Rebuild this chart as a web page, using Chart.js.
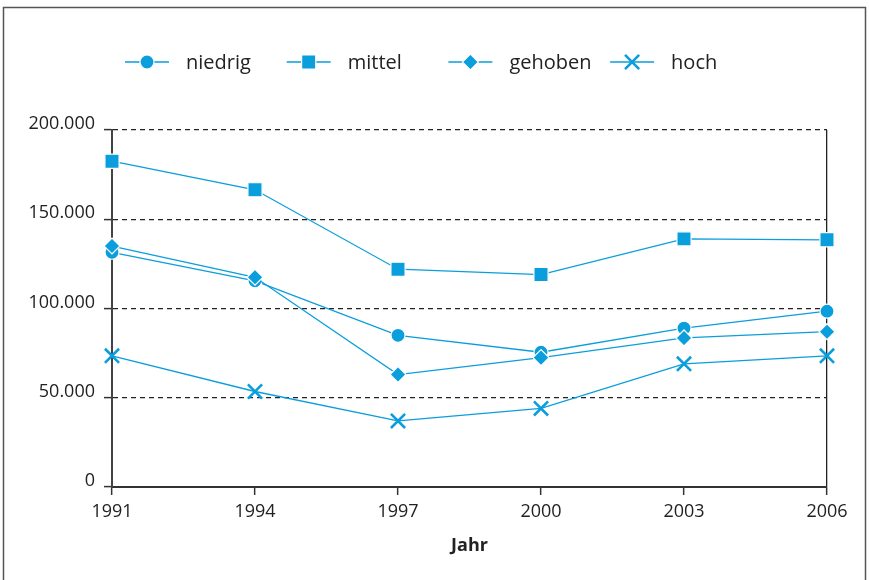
<!DOCTYPE html>
<html>
<head>
<meta charset="utf-8">
<script src="https://cdn.jsdelivr.net/npm/chart.js@4.4.1/dist/chart.umd.min.js"></script>
<style>
  body { margin: 0; background: #fff; }
  #wrap { width: 869px; height: 580px; position: relative; }
</style>
</head>
<body>
<div id="wrap"><canvas id="myChart" width="869" height="580"></canvas></div>
<script>
var years = ["1991", "1994", "1997", "2000", "2003", "2006"];
var niedrig = [131500, 115500, 85000, 75500, 89000, 98500];
var mittel  = [182500, 166500, 122000, 119000, 139000, 138500];
var gehoben = [135000, 117500, 63000, 72500, 83500, 87000];
var hoch    = [73500, 53500, 37000, 44000, 69000, 73500];
var yTicks  = [0, 50000, 100000, 150000, 200000];

var blue = "#0a9edc";
var font = "'Open Sans', 'Noto Sans', sans-serif";

function fmt(v) {
  return String(v).replace(/\B(?=(\d{3})+(?!\d))/g, ".");
}

function series(label, data, style, radius, order) {
  return {
    label: label,
    data: data,
    borderColor: blue,
    borderWidth: 1.3,
    backgroundColor: blue,
    pointStyle: style,
    pointRadius: radius,
    pointHoverRadius: radius,
    pointBackgroundColor: blue,
    pointBorderColor: style === "crossRot" ? blue : "#fff",
    pointBorderWidth: style === "crossRot" ? 2.6 : 1.2,
    order: order,
    tension: 0
  };
}

// legend with a short line through the marker, and the outer frame
var extras = {
  id: "extras",
  afterDraw(chart) {
    var ctx = chart.ctx;
    ctx.save();
    ctx.strokeStyle = "#555";
    ctx.lineWidth = 1.5;
    ctx.beginPath();
    ctx.moveTo(3.5, 580);
    ctx.lineTo(3.5, 7.5);
    ctx.lineTo(865.5, 7.5);
    ctx.lineTo(865.5, 580);
    ctx.stroke();

    var y = 62;
    chart.data.datasets.forEach(function (ds, i) {
      var x0 = 125 + i * 161.7;
      ctx.strokeStyle = blue;
      ctx.lineWidth = 1.3;
      ctx.beginPath();
      ctx.moveTo(x0, y);
      ctx.lineTo(x0 + 44, y);
      ctx.stroke();
      ctx.fillStyle = blue;
      ctx.strokeStyle = ds.pointBorderColor;
      ctx.lineWidth = ds.pointBorderWidth;
      Chart.helpers.drawPoint(ctx, {
        pointStyle: ds.pointStyle,
        radius: ds.pointRadius,
        borderWidth: ds.pointBorderWidth
      }, x0 + 22, y);
      ctx.fillStyle = "#222";
      ctx.font = "20px " + font;
      ctx.textBaseline = "middle";
      ctx.fillText(ds.label, x0 + 61, y + 1);
    });
    ctx.restore();
  }
};

new Chart("myChart", {
  type: "line",
  data: {
    labels: years,
    datasets: [
      series("niedrig", niedrig, "circle", 7, 2),
      series("mittel", mittel, "rect", 10, 1),
      series("gehoben", gehoben, "rectRot", 8, 0),
      series("hoch", hoch, "crossRot", 10, 1)
    ]
  },
  options: {
    responsive: false,
    animation: false,
    layout: { padding: { top: 130, right: 42, left: 0, bottom: 0 } },
    plugins: { legend: { display: false }, tooltip: { enabled: false } },
    scales: {
      x: {
        offset: false,
        afterFit(scale) { scale.height = 93; },
        border: { color: "#333", width: 2 },
        grid: {
          color: function (c) { return c.index === years.length - 1 ? "#222" : "rgba(0,0,0,0)"; },
          lineWidth: 1.3,
          tickLength: 8,
          tickColor: "#333",
          tickWidth: 1.5
        },
        ticks: { color: "#222", font: { family: font, size: 18 }, padding: 6, maxRotation: 0 },
        title: {
          display: true,
          text: "Jahr",
          color: "#222",
          font: { family: font, size: 18, weight: "bold" },
          padding: { top: 4, bottom: 23 }
        }
      },
      y: {
        min: 0,
        max: 200000,
        afterFit(scale) { scale.width = 112; },
        afterBuildTicks(scale) { scale.ticks = yTicks.map(function (v) { return { value: v }; }); },
        border: { color: "#444", width: 2, dash: [5, 4] },
        grid: {
          color: function (c) { return c.tick && c.tick.value === 0 ? "rgba(0,0,0,0)" : "#222"; },
          lineWidth: 1.2,
          tickBorderDash: [],
          tickLength: 8,
          tickColor: "#333",
          tickWidth: 1.5
        },
        ticks: {
          color: "#222",
          font: { family: font, size: 18 },
          padding: 9,
          labelOffset: -6,
          callback: function (v) { return fmt(v); }
        }
      }
    }
  },
  plugins: [extras]
});
</script>
</body>
</html>
